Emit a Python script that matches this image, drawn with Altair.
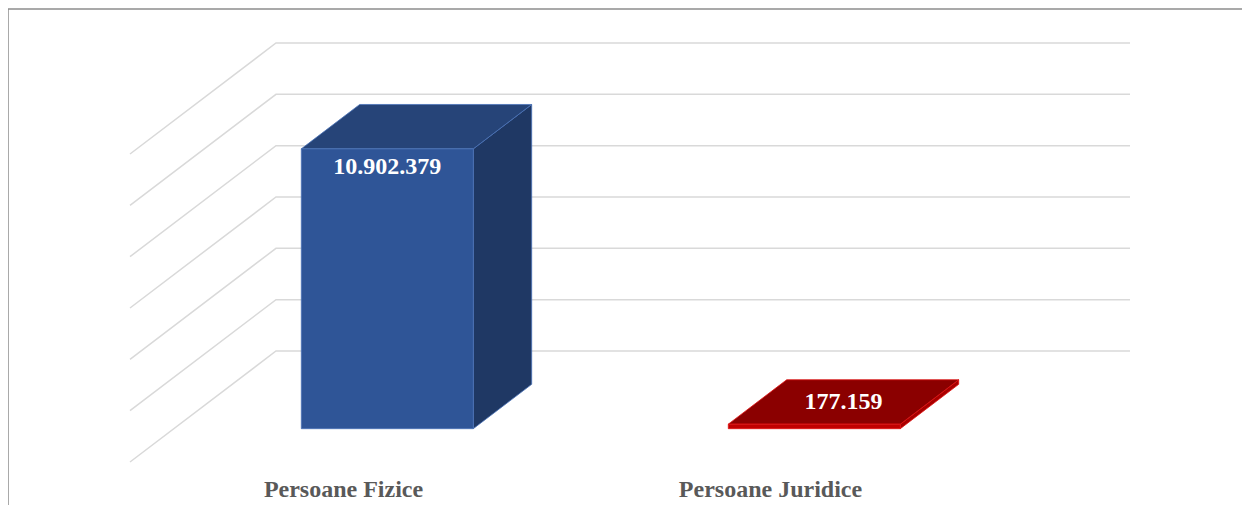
import altair as alt
import pandas as pd

# ---------------- data ----------------
categories = ["Persoane Fizice", "Persoane Juridice"]
values = [10902379, 177159]
value_labels = ["10.902.379", "177.159"]
grid_ticks = [0, 2000000, 4000000, 6000000, 8000000, 10000000, 12000000]

# ---------------- layout / projection constants ----------------
W, H = 1234, 497
PX_PER_CAT = 427.0            # pixels per category unit
PX_PER_VAL = 308.0 / 12e6     # pixels per value unit
X_ORIGIN = 481.5              # pixel of category 0 on back wall
Y_ZERO = 343.0                # pixel of value 0 on back wall
DEPTH_DX = 146.0 / PX_PER_CAT # floor depth, category units
DEPTH_DY = 111.0 / PX_PER_VAL # floor depth, value units
HALF_W = 86.0 / PX_PER_CAT
D_BACK, D_FRONT = 0.3, 0.7

x_scale = alt.Scale(domain=[-X_ORIGIN / PX_PER_CAT, (W - X_ORIGIN) / PX_PER_CAT], nice=False, zero=False)
y_scale = alt.Scale(domain=[(Y_ZERO - H) / PX_PER_VAL, Y_ZERO / PX_PER_VAL], nice=False, zero=False)

def proj(u, v, d):
    return u - d * DEPTH_DX, v - d * DEPTH_DY

face_keys = []
face_colors = []
palette = {
    "Persoane Fizice": ("#2F5597", "#264478", "#1F3864", "#4A72B8"),
    "Persoane Juridice": ("#C00000", "#8B0000", "#A80000", "#E01010"),
}
for c in categories:
    f, t, s, _ = palette[c]
    face_keys += [c + "|front", c + "|top", c + "|side"]
    face_colors += [f, t, s]
color_scale = alt.Scale(domain=face_keys, range=face_colors)
stroke_scale = alt.Scale(domain=categories, range=[palette[c][3] for c in categories])

# ---------------- tables ----------------
grid_rows = []
for t in grid_ticks:
    x0, y0 = proj(-0.5, t, 1.0)
    grid_rows.append({"tick": t, "o": 0, "x": x0, "y": y0})
    grid_rows.append({"tick": t, "o": 1, "x": -0.5, "y": t})
    grid_rows.append({"tick": t, "o": 2, "x": 1.5, "y": t})
grid_df = pd.DataFrame(grid_rows)

front_rows, top_rows, side_rows, vlab_rows, clab_rows = [], [], [], [], []
for i, (c, v, lab) in enumerate(zip(categories, values, value_labels)):
    u = float(i)
    # front face
    xl, yb = proj(u - HALF_W, 0, D_FRONT)
    xr, yt = proj(u + HALF_W, v, D_FRONT)
    front_rows.append({"face": c + "|front", "bar": c, "x": xl, "x2": xr, "y": yb, "y2": yt})
    # top face (horizontal area)
    for d in (D_FRONT, D_BACK):
        a, yy = proj(u - HALF_W, v, d)
        b, _ = proj(u + HALF_W, v, d)
        top_rows.append({"face": c + "|top", "bar": c, "y": yy, "x": a, "x2": b})
    # side face (vertical area)
    for d in (D_FRONT, D_BACK):
        xx, y_lo = proj(u + HALF_W, 0, d)
        _, y_hi = proj(u + HALF_W, v, d)
        side_rows.append({"face": c + "|side", "bar": c, "x": xx, "y": y_lo, "y2": y_hi})
    # value label
    if v * PX_PER_VAL > 40:
        lx, ly = proj(u, v, D_FRONT)
        ly -= 18.0 / PX_PER_VAL
    else:
        lx, ly = proj(u, v, (D_FRONT + D_BACK) / 2)
    vlab_rows.append({"x": lx, "y": ly, "text": lab})
    # category label
    cx, cy = proj(u, 0, 1.0)
    clab_rows.append({"x": cx, "y": cy, "text": c})

front_df = pd.DataFrame(front_rows)
top_df = pd.DataFrame(top_rows)
side_df = pd.DataFrame(side_rows)
vlab_df = pd.DataFrame(vlab_rows)
clab_df = pd.DataFrame(clab_rows)

# ---------------- layers ----------------
grid = alt.Chart(grid_df).mark_line(color="#D9D9D9", strokeWidth=1.5).encode(
    x=alt.X("x:Q", scale=x_scale, axis=None),
    y=alt.Y("y:Q", scale=y_scale, axis=None),
    detail="tick:N",
    order="o:Q",
)

side = alt.Chart(side_df).mark_area(orient="vertical", strokeWidth=0.8).encode(
    x=alt.X("x:Q", scale=x_scale, axis=None),
    y=alt.Y("y:Q", scale=y_scale, axis=None),
    y2="y2:Q",
    color=alt.Color("face:N", scale=color_scale, legend=None),
    stroke=alt.Stroke("bar:N", scale=stroke_scale, legend=None),
)

top = alt.Chart(top_df).mark_area(orient="horizontal", strokeWidth=0.8).encode(
    y=alt.Y("y:Q", scale=y_scale, axis=None),
    x=alt.X("x:Q", scale=x_scale, axis=None),
    x2="x2:Q",
    color=alt.Color("face:N", scale=color_scale, legend=None),
    stroke=alt.Stroke("bar:N", scale=stroke_scale, legend=None),
)

front = alt.Chart(front_df).mark_rect(strokeWidth=0.8).encode(
    x=alt.X("x:Q", scale=x_scale, axis=None),
    x2="x2:Q",
    y=alt.Y("y:Q", scale=y_scale, axis=None),
    y2="y2:Q",
    color=alt.Color("face:N", scale=color_scale, legend=None),
    stroke=alt.Stroke("bar:N", scale=stroke_scale, legend=None),
)

vlabels = alt.Chart(vlab_df).mark_text(
    font="Liberation Serif", fontWeight="bold", fontSize=24, color="white", baseline="middle", align="center"
).encode(
    x=alt.X("x:Q", scale=x_scale, axis=None),
    y=alt.Y("y:Q", scale=y_scale, axis=None),
    text="text:N",
)

clabels = alt.Chart(clab_df).mark_text(
    font="Liberation Serif", fontWeight="bold", fontSize=24, color="#595959", baseline="middle", align="center", dy=28
).encode(
    x=alt.X("x:Q", scale=x_scale, axis=None),
    y=alt.Y("y:Q", scale=y_scale, axis=None),
    text="text:N",
)

border_src = alt.Data(values=[{}])
border_top = alt.Chart(border_src).mark_rule(color="#8C8C8C", strokeWidth=1.5).encode(
    x=alt.value(0), x2=alt.value(W), y=alt.value(1)
)
border_left = alt.Chart(border_src).mark_rule(color="#8C8C8C", strokeWidth=1.5).encode(
    x=alt.value(0), y=alt.value(1), y2=alt.value(H)
)

chart = alt.layer(grid, side, top, front, vlabels, clabels, border_top, border_left).properties(
    width=W, height=H, padding=0, autosize="none"
).configure_view(stroke=None)

chart.save("out.html", embed_options={"renderer": "svg", "actions": False})
